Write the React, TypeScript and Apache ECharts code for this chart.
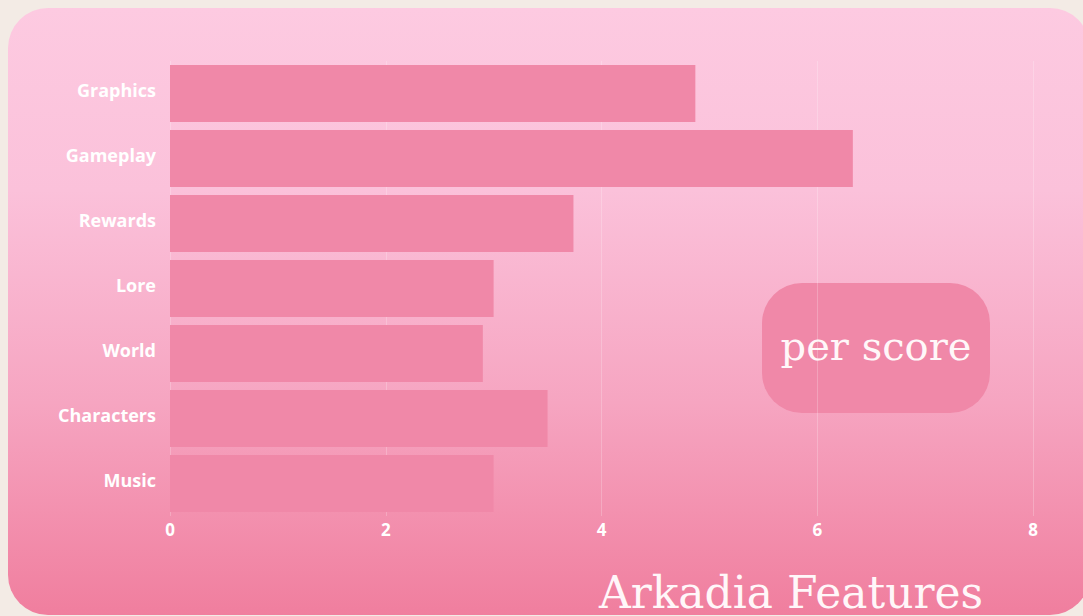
import React, { useEffect, useRef } from "react";
import * as echarts from "echarts";

const categories = ["Graphics", "Gameplay", "Rewards", "Lore", "World", "Characters", "Music"];
const scores = [4.87, 6.33, 3.74, 3.0, 2.9, 3.5, 3.0];
const xTicks = [0, 2, 4, 6, 8];

export default function App() {
  const ref = useRef<HTMLDivElement>(null);
  useEffect(() => {
    if (!ref.current) return;
    const chart = echarts.init(ref.current, undefined, { renderer: "svg" });
    chart.setOption({
      animation: false,
      grid: { left: 170, right: 50, top: 61, bottom: 100, containLabel: false },
      xAxis: {
        type: "value",
        min: xTicks[0],
        max: xTicks[xTicks.length - 1],
        interval: 2,
        axisLine: { show: false },
        axisTick: { show: false },
        splitLine: { show: true, lineStyle: { color: "rgba(255,255,255,0.22)", width: 1 } },
        axisLabel: {
          color: "#ffffff",
          fontFamily: "Open Sans",
          fontWeight: "bold",
          fontSize: 17,
          margin: 5,
        },
      },
      yAxis: {
        type: "category",
        data: categories,
        inverse: true,
        axisLine: { show: false },
        axisTick: { show: false },
        splitLine: { show: false },
        axisLabel: {
          color: "#ffffff",
          fontFamily: "Open Sans",
          fontWeight: "bold",
          fontSize: 18,
          margin: 14,
          verticalAlign: "bottom",
          lineHeight: 8,
        },
      },
      series: [
        {
          type: "bar",
          data: scores,
          barCategoryGap: "12%",
          itemStyle: { color: "#f088a8" },
        },
      ],
      graphic: [
        {
          type: "group",
          left: 762,
          top: 283,
          children: [
            {
              type: "rect",
              shape: { x: 0, y: 0, width: 228, height: 130, r: 40 },
              style: { fill: "#f088a8" },
            },
            {
              type: "text",
              x: 114,
              y: 63,
              style: {
                text: "per score",
                fill: "#fff7f9",
                font: "40px 'DejaVu Serif'",
                textAlign: "center",
                textVerticalAlign: "middle",
              },
            },
          ],
        },
        {
          type: "text",
          x: 791,
          y: 592,
          style: {
            text: "Arkadia Features",
            fill: "#fff7f9",
            font: "44px 'DejaVu Serif'",
            textAlign: "center",
            textVerticalAlign: "middle",
          },
        },
      ],
    });
    return () => chart.dispose();
  }, []);
  return (
    <div
      style={{
        position: "fixed",
        left: 0,
        top: 0,
        width: 1083,
        height: 616,
        background: "#f3ebe5",
        overflow: "hidden",
      }}
    >
      <div
        style={{
          position: "absolute",
          left: 8,
          top: 8,
          width: 1082,
          height: 607,
          borderRadius: 40,
          background: "linear-gradient(to bottom, #fdcae1 0%, #fbc1da 30%, #f6a5c1 65%, #f07e9e 100%)",
        }}
      />
      <div ref={ref} style={{ position: "absolute", left: 0, top: 0, width: 1083, height: 616 }} />
    </div>
  );
}
